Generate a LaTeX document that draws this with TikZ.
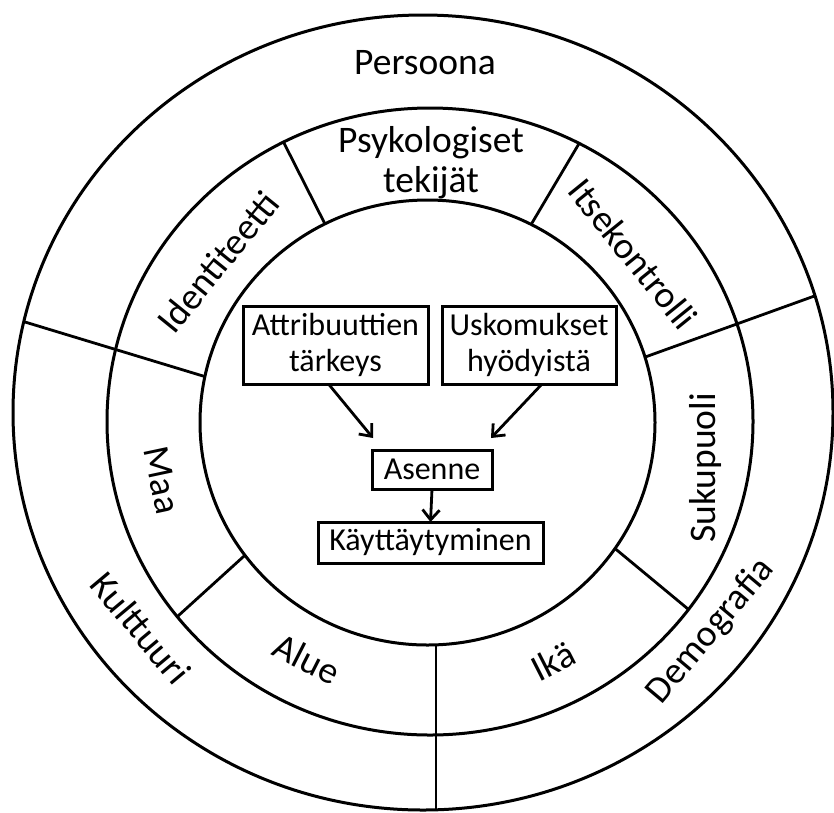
\documentclass[tikz,border=0pt]{standalone}
\usepackage{fontspec}
\setmainfont{Carlito}
\usetikzlibrary{arrows.meta,calc}
\begin{document}
\begin{tikzpicture}[x=1pt,y=-1pt,
  ring/.style={draw, line width=3pt},
  div/.style={line width=2.8pt},
  lab/.style={font=\fontsize{37.5}{40}\selectfont, inner sep=0pt, align=center},
  boxnode/.style={draw, line width=3pt, font=\fontsize{32}{36}\selectfont, align=center, inner sep=0pt, outer sep=0pt},
  arr/.style={line width=2.8pt, -{Straight Barb[length=10pt,width=17pt]}}]
\useasboundingbox (0,0) rectangle (834,812);
\fill[white] (0,0) rectangle (834,812);

\coordinate (co) at (423,412.5);
\coordinate (cm) at (430,421.5);
\coordinate (ci) at (427.5,422.5);

% dividers of the middle ring only
\begin{scope}
  \clip (cm) ellipse [x radius=323pt, y radius=313.5pt];
  \draw[div] ($(285,145)!-0.3!(325,224)$) -- ($(285,145)!1.3!(325,224)$);
  \draw[div] ($(577,147)!-0.3!(532,223)$) -- ($(577,147)!1.3!(532,223)$);
  \draw[div] ($(243,557)!-0.3!(178,616)$) -- ($(243,557)!1.3!(178,616)$);
  \draw[div] ($(618,551)!-0.3!(688,609)$) -- ($(618,551)!1.3!(688,609)$);
\end{scope}
% dividers through both rings
\begin{scope}
  \clip (co) ellipse [x radius=410pt, y radius=397.5pt];
  \draw[div] ($(203,376)!-0.3!(25,322)$) -- ($(203,376)!1.3!(25,322)$);
  \draw[div] ($(648,356)!-0.3!(820,294)$) -- ($(648,356)!1.3!(820,294)$);
  \draw[div] (436,600) -- (436,840);
\end{scope}
\fill[white] (ci) ellipse [x radius=227.5pt, y radius=222.5pt];

\draw[ring] (co) ellipse [x radius=410pt, y radius=397.5pt];
\draw[ring] (cm) ellipse [x radius=323pt, y radius=313.5pt];
\draw[ring] (ci) ellipse [x radius=227.5pt, y radius=222.5pt];

% ring labels
\node[lab] (persoona) at (425,63) {Persoona};
\node[lab] (psy) at (431,163) {Psykologiset\\tekijät};
\node[lab, rotate=51] (ident) at (218,262) {Identiteetti};
\node[lab, rotate=-51] (itse) at (633,254) {Itsekontrolli};
\node[lab, rotate=90] (suku) at (705,468) {Sukupuoli};
\node[lab, rotate=-78] (maa) at (162,480) {Maa};
\node[lab, rotate=-50] (kult) at (141,628) {Kulttuuri};
\node[lab, rotate=-27] (alue) at (307,659) {Alue};
\node[lab, rotate=27] (ika) at (553,661) {Ikä};
\node[lab, rotate=50] (demo) at (711,631) {Demografia};

% boxes
\node[boxnode, minimum width=185pt, minimum height=78pt] (attr) at (335.5,345) {Attribuuttien\\tärkeys};
\node[boxnode, minimum width=174pt, minimum height=78pt] (usk) at (529,345) {Uskomukset\\hyödyistä};
\node[boxnode, minimum width=120pt, minimum height=39pt] (asenne) at (432,469.5) {Asenne};
\node[boxnode, minimum width=225pt, minimum height=41pt] (kay) at (430.5,542.5) {Käyttäytyminen};

\coordinate (t1) at (373,438);
\coordinate (t2) at (491,438);
\draw[arr] ([xshift=-7pt]attr.south) -- (t1);
\draw[arr] ([xshift=13pt]usk.south) -- (t2);
\draw[arr] (asenne.south) -- (kay.north);
\end{tikzpicture}
\end{document}
